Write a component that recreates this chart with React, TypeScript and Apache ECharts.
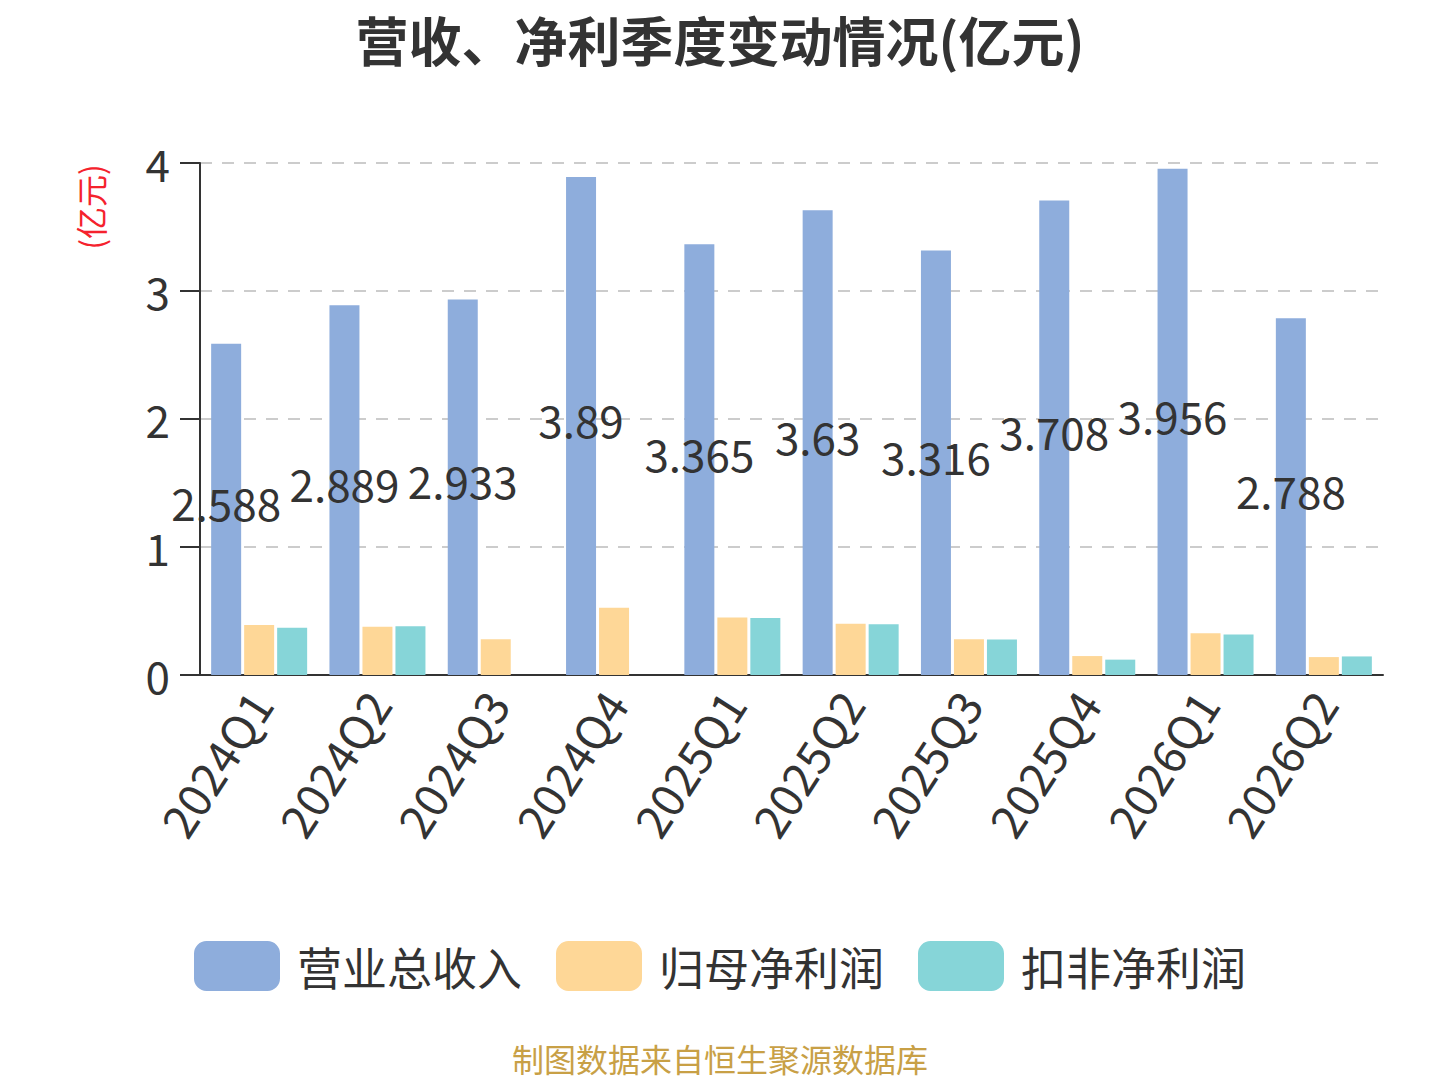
import { useEffect, useRef } from 'react'
import * as echarts from 'echarts'

// 营收、净利季度变动情况 · 分组柱状图
const FONT = '"Noto Sans CJK SC", "Noto Sans", sans-serif'
const TEXT_COLOR = '#333'

const quarters = [
  '2024Q1', '2024Q2', '2024Q3', '2024Q4', '2025Q1',
  '2025Q2', '2025Q3', '2025Q4', '2026Q1', '2026Q2',
]
const revenue = [2.588, 2.889, 2.933, 3.89, 3.365, 3.63, 3.316, 3.708, 3.956, 2.788]
const netProfit = [0.39, 0.377, 0.28, 0.526, 0.45, 0.4, 0.28, 0.148, 0.326, 0.14]
const deductedProfit = [0.37, 0.38, null, null, 0.446, 0.397, 0.277, 0.12, 0.316, 0.145]
const seriesNames = ['营业总收入', '归母净利润', '扣非净利润']
const seriesColors = ['#8eaddc', '#fed797', '#86d5d8']

export default function App() {
  const ref = useRef<HTMLDivElement>(null)

  useEffect(() => {
    if (!ref.current) return
    const chart = echarts.init(ref.current, undefined, { renderer: 'svg' })

    const bar = (idx: number, data: (number | null)[], withLabel: boolean) => ({
      name: seriesNames[idx],
      type: 'bar' as const,
      data,
      barWidth: 30,
      barGap: '10%',
      itemStyle: { color: seriesColors[idx] },
      label: withLabel
        ? {
            show: true,
            position: 'inside' as const,
            offset: [0, -7],
            color: TEXT_COLOR,
            fontSize: 44,
            fontFamily: FONT,
            textBorderWidth: 0,
          }
        : { show: false },
    })

    chart.setOption({
      animation: false,
      backgroundColor: '#fff',
      title: {
        text: '营收、净利季度变动情况(亿元)',
        left: 'center',
        top: 12,
        padding: 0,
        textStyle: { color: TEXT_COLOR, fontSize: 53, fontWeight: 'bold', fontFamily: FONT },
      },
      legend: {
        top: 936,
        left: 'center',
        itemWidth: 86,
        itemHeight: 50,
        itemGap: 34,
        icon: 'roundRect',
        textStyle: {
          color: TEXT_COLOR,
          fontSize: 45,
          fontFamily: FONT,
          padding: [0, 0, 0, 12],
        },
        data: seriesNames,
      },
      grid: { left: 200, right: 57, top: 163, bottom: 406, containLabel: false },
      xAxis: {
        type: 'category',
        data: quarters,
        axisLine: { lineStyle: { color: TEXT_COLOR, width: 2 } },
        axisTick: { length: 16, lineStyle: { color: TEXT_COLOR, width: 2 } },
        axisLabel: {
          rotate: 57,
          margin: 20,
          color: TEXT_COLOR,
          fontSize: 46,
          fontFamily: FONT,
        },
      },
      yAxis: {
        type: 'value',
        min: 0,
        max: 4,
        interval: 1,
        axisLine: { show: true, lineStyle: { color: TEXT_COLOR, width: 2 } },
        axisTick: { show: true, length: 20, lineStyle: { color: TEXT_COLOR, width: 2 } },
        axisLabel: { margin: 30, color: TEXT_COLOR, fontSize: 44, fontFamily: FONT },
        splitLine: { lineStyle: { color: '#ccc', type: [12, 10], width: 2 } },
      },
      graphic: [
        {
          type: 'text',
          x: 90,
          y: 207,
          rotation: Math.PI / 2,
          style: {
            text: '(亿元)',
            fill: '#f5222d',
            fontSize: 32,
            fontFamily: FONT,
            textAlign: 'center',
            textVerticalAlign: 'middle',
          },
        },
        {
          type: 'text',
          x: 720,
          y: 1058,
          style: {
            text: '制图数据来自恒生聚源数据库',
            fill: '#c8a046',
            fontSize: 32,
            fontFamily: FONT,
            textAlign: 'center',
            textVerticalAlign: 'middle',
          },
        },
      ],
      series: [
        bar(0, revenue, true),
        bar(1, netProfit, false),
        bar(2, deductedProfit, false),
      ],
    })

    return () => chart.dispose()
  }, [])

  return (
    <div
      ref={ref}
      style={{ position: 'fixed', left: 0, top: 0, width: 1440, height: 1081 }}
    />
  )
}
